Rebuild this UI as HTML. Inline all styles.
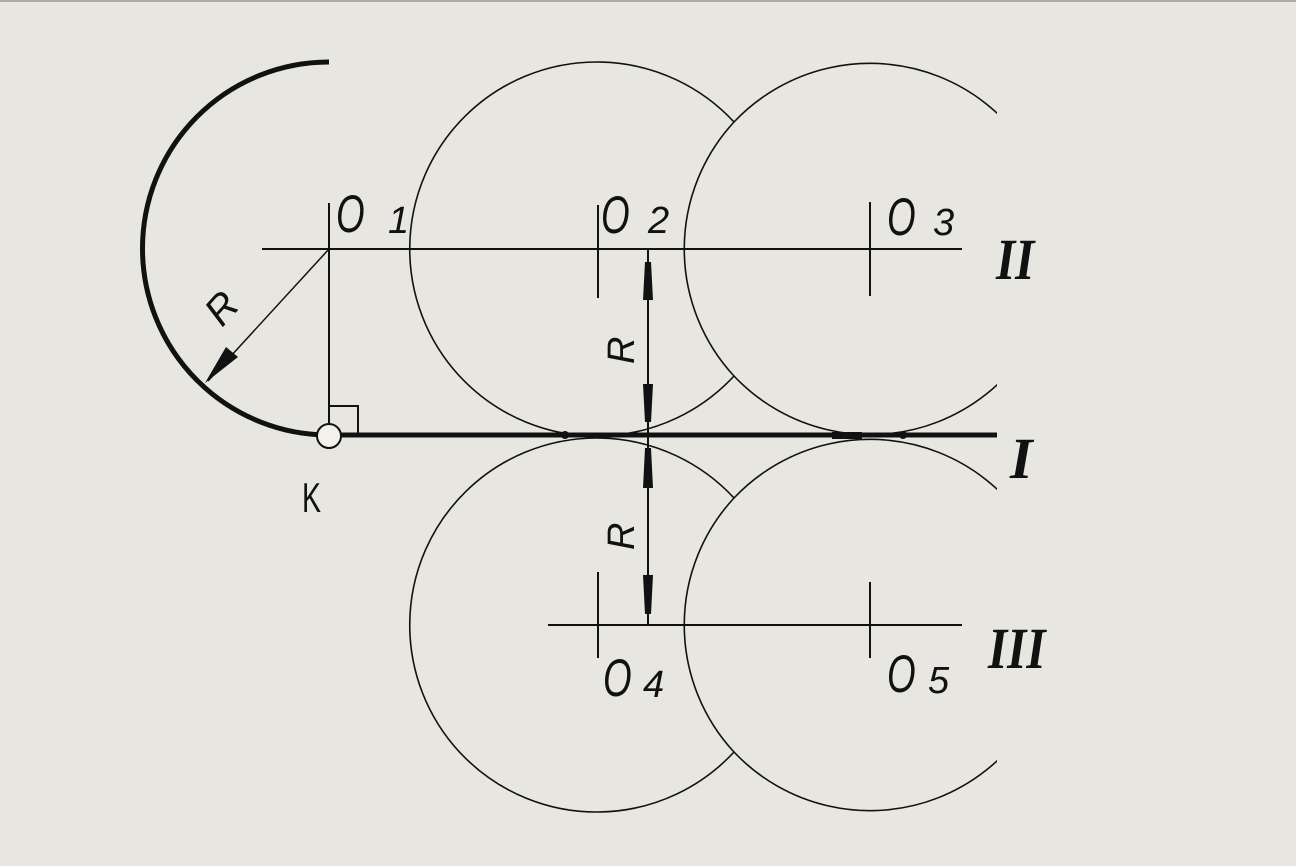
<!DOCTYPE html>
<html><head><style>
html,body{margin:0;padding:0;background:#e7e6e0;}
svg{display:block}
text{font-family:"Liberation Sans",sans-serif;fill:#111;}
</style></head><body>
<svg width="1296" height="866" viewBox="0 0 1296 866">
<rect width="1296" height="866" fill="#e7e6e0"/>
<line x1="0" y1="1" x2="1296" y2="1" stroke="#aaa" stroke-width="2"/>
<defs>
<clipPath id="c"><rect x="0" y="0" width="997" height="866"/></clipPath>
</defs>
<g fill="none" stroke="#111" stroke-width="1.6" clip-path="url(#c)">
<path d="M734,122 A187,187 0 1 0 734,376"/>
<path d="M734,122 A187,187 0 0 1 1057,249 A187,187 0 0 1 734,376 A187,187 0 0 1 734,122" />
<path d="M734,498 A187,187 0 1 0 734,752"/>
<path d="M734,498 A187,187 0 0 1 1057,625 A187,187 0 0 1 734,752 A187,187 0 0 1 734,498"/>
</g>
<g stroke="#111" fill="none">
<path d="M329,435 A186,186 0 0 1 329,62" stroke-width="5"/>
<line x1="262" y1="249" x2="962" y2="249" stroke-width="2"/>
<line x1="548" y1="625" x2="962" y2="625" stroke-width="2"/>
<line x1="330" y1="435" x2="997" y2="435" stroke-width="5"/>
<line x1="329" y1="203" x2="329" y2="435" stroke-width="2"/>
<line x1="598" y1="205" x2="598" y2="298" stroke-width="2"/>
<line x1="870" y1="202" x2="870" y2="296" stroke-width="2"/>
<line x1="598" y1="572" x2="598" y2="658" stroke-width="2"/>
<line x1="870" y1="582" x2="870" y2="658" stroke-width="2"/>
<line x1="648" y1="249" x2="648" y2="625" stroke-width="2"/>
<line x1="329" y1="249" x2="208" y2="381" stroke-width="1.5"/>
<path d="M329,406 H358 V435" stroke-width="2"/>
</g>
<g fill="#111">
<polygon points="645,262 651,262 653,300 643,300"/>
<polygon points="643,384 653,384 651,422 645,422"/>
<polygon points="645,448 651,448 653,488 643,488"/>
<polygon points="643,575 653,575 651,614 645,614"/>
<polygon points="205,383 226,347 238,357"/>
<rect x="832" y="432" width="30" height="7"/>
<circle cx="565" cy="435" r="4"/><circle cx="903" cy="435" r="4"/>
</g>
<circle cx="329" cy="436" r="12" fill="#f2f1ec" stroke="#111" stroke-width="2"/>
<g font-style="italic">
<text x="336" y="232" font-size="46" transform="translate(336,232) scale(0.8,1.15) translate(-336,-232)">O</text>
<text x="388" y="233" font-size="38">1</text>
<text x="601" y="233" font-size="46" transform="translate(601,233) scale(0.8,1.15) translate(-601,-233)">O</text>
<text x="648" y="233" font-size="38">2</text>
<text x="887" y="235" font-size="46" transform="translate(887,235) scale(0.8,1.15) translate(-887,-235)">O</text>
<text x="933" y="235" font-size="38">3</text>
<text x="603" y="696" font-size="46" transform="translate(603,696) scale(0.8,1.15) translate(-603,-696)">O</text>
<text x="643" y="697" font-size="38">4</text>
<text x="887" y="692" font-size="46" transform="translate(887,692) scale(0.8,1.15) translate(-887,-692)">O</text>
<text x="928" y="693" font-size="38">5</text>
<text x="0" y="0" font-size="40" transform="translate(222,328) rotate(-48)">R</text>
<text x="0" y="0" font-size="38" transform="translate(634,364) rotate(-90)">R</text>
<text x="0" y="0" font-size="38" transform="translate(634,550) rotate(-90)">R</text>
</g>
<text x="302" y="512" font-size="38" transform="translate(302,512) scale(0.75,1.1) translate(-302,-512)">K</text>
<g font-weight="bold" font-style="italic">
<text x="996" y="279" font-size="58" style="font-family:'Liberation Serif',serif" transform="translate(996,279) scale(0.85,1) translate(-996,-279)">II</text>
<text x="1010" y="478" font-size="58" style="font-family:'Liberation Serif',serif">I</text>
<text x="988" y="668" font-size="58" style="font-family:'Liberation Serif',serif" transform="translate(988,668) scale(0.85,1) translate(-988,-668)">III</text>
</g>
</svg>
</body></html>
